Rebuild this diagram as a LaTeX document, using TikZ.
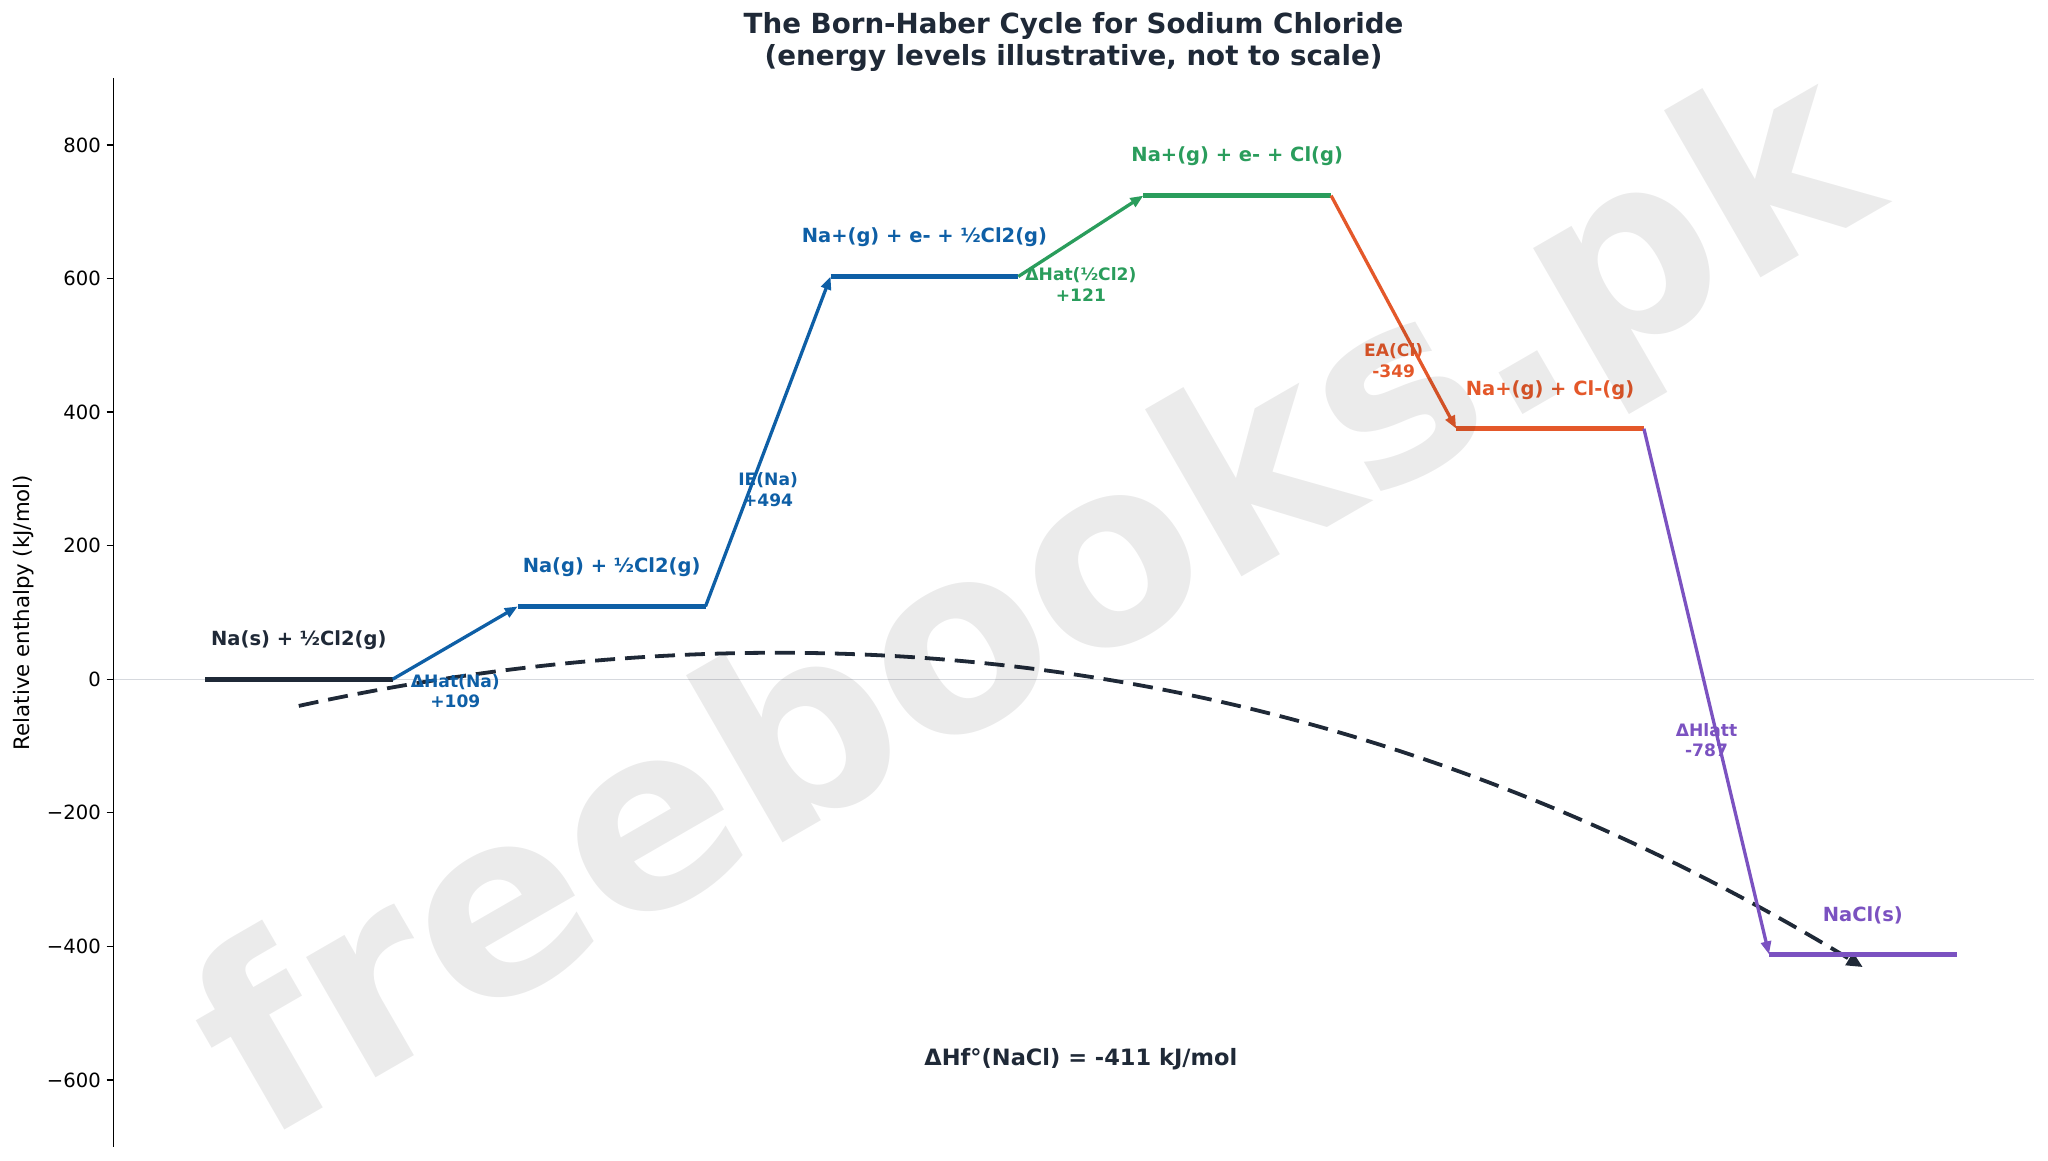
\documentclass[tikz,border=0pt]{standalone}
\usepackage{fontspec}
\setmainfont{DejaVu Sans}
\usetikzlibrary{arrows.meta}
\definecolor{cdark}{HTML}{1F2937}
\definecolor{cblue}{HTML}{0E5FA6}
\definecolor{cgreen}{HTML}{2A9D5C}
\definecolor{corange}{HTML}{E4582A}
\definecolor{cpurple}{HTML}{7B52C1}
\definecolor{cgrid}{HTML}{D6D9DE}
\tikzset{
  lvl/.style={line width=5pt},
  stepar/.style={line width=3.3pt,-{Triangle[length=13pt,width=10pt]}},
  lvllab/.style={font=\fontsize{19.5}{23}\selectfont\bfseries,inner sep=0pt,anchor=center},
  arrlab/.style={font=\fontsize{17.1}{20.5}\selectfont\bfseries,align=center,inner sep=0pt,anchor=center},
  ytk/.style={font=\fontsize{19.6}{23}\selectfont,anchor=east,inner sep=0pt,text=black},
}
\begin{document}
\begin{tikzpicture}[x=1pt,y=-1pt]
\useasboundingbox (0,0) rectangle (2048,1161);
\fill[white] (0,0) rectangle (2048,1161);
% zero line
\coordinate (g0) at (113.6,679.2);
\coordinate (g1) at (2033.6,679.2);
\draw[cgrid,line width=1.4pt] (g0) -- (g1);
% axis
\coordinate (ax0) at (113.6,78);
\coordinate (ax1) at (113.6,1147);
\draw[black,line width=1.4pt] (ax0) -- (ax1);
\foreach \v/\t in {800/800,600/600,400/400,200/200,0/0,-200/{−200},-400/{−400},-600/{−600}}{
  \pgfmathsetmacro{\yy}{679.2-0.6679*\v}
  \draw[black,line width=1.4pt] (106.5,\yy) -- (113.6,\yy);
  \node[ytk] (yt\v) at (101,\yy) {\t};
}
\node[font=\fontsize{21.3}{25}\selectfont,rotate=90,anchor=center,inner sep=0pt] (ylab) at (23.5,612.5) {Relative enthalpy (kJ/mol)};
% title
\node[font=\fontsize{27.7}{32}\selectfont\bfseries,align=center,text=cdark,inner sep=0pt] (title) at (1073.6,41.8) {The Born-Haber Cycle for Sodium Chloride\\(energy levels illustrative, not to scale)};
% level coordinates
\coordinate (L0a) at (205,679.2);    \coordinate (L0b) at (392.7,679.2);
\coordinate (L1a) at (517.8,606.4);  \coordinate (L1b) at (705.5,606.4);
\coordinate (L2a) at (830.6,276.5);  \coordinate (L2b) at (1018.3,276.5);
\coordinate (L3a) at (1143.4,195.6); \coordinate (L3b) at (1331.1,195.6);
\coordinate (L4a) at (1456.2,428.7); \coordinate (L4b) at (1643.9,428.7);
\coordinate (L5a) at (1769,954.4);   \coordinate (L5b) at (1956.7,954.4);
% dashed overall arrow
\coordinate (P0) at (298.8,705.9);
\coordinate (P2) at (1862.8,967.1);
\draw[cdark,line width=3.8pt,dash pattern=on 20pt off 10pt,-{Triangle[length=16pt,width=14pt]}] (P0) .. controls (854.9,584.6) and (1376.3,671.7) .. (P2);
% levels
\draw[lvl,cdark] (L0a) -- (L0b);
\draw[lvl,cblue] (L1a) -- (L1b);
\draw[lvl,cblue] (L2a) -- (L2b);
\draw[lvl,cgreen] (L3a) -- (L3b);
\draw[lvl,corange] (L4a) -- (L4b);
\draw[lvl,cpurple] (L5a) -- (L5b);
% steps
\draw[stepar,cblue] (L0b) -- (L1a);
\draw[stepar,cblue] (L1b) -- (L2a);
\draw[stepar,cgreen] (L2b) -- (L3a);
\draw[stepar,corange] (L3b) -- (L4a);
\draw[stepar,cpurple] (L4b) -- (L5a);
% level labels
\node[lvllab,text=cdark] (t0) at (298.8,640.2) {Na(s) + ½Cl2(g)};
\node[lvllab,text=cblue] (t1) at (611.6,567.4) {Na(g) + ½Cl2(g)};
\node[lvllab,text=cblue] (t2) at (924.4,237.5) {Na+(g) + e- + ½Cl2(g)};
\node[lvllab,text=cgreen] (t3) at (1237.2,156.6) {Na+(g) + e- + Cl(g)};
\node[lvllab,text=corange] (t4) at (1550,389.7) {Na+(g) + Cl-(g)};
\node[lvllab,text=cpurple] (t5) at (1862.8,915.4) {NaCl(s)};
% step labels
\node[arrlab,text=cblue] (s0) at (455.3,691.1) {ΔHat(Na)\\+109};
\node[arrlab,text=cblue] (s1) at (768.1,489.8) {IE(Na)\\+494};
\node[arrlab,text=cgreen] (s2) at (1080.9,284.4) {ΔHat(½Cl2)\\+121};
\node[arrlab,text=corange] (s3) at (1393.7,360.5) {EA(Cl)\\-349};
\node[arrlab,text=cpurple] (s4) at (1706.5,739.9) {ΔHlatt\\-787};
% bottom text
\node[font=\fontsize{22.5}{26}\selectfont\bfseries,text=cdark,inner sep=0pt] (hf) at (1080.8,1059.3) {ΔHf°(NaCl) = -411 kJ/mol};
% watermark
\node[font=\fontsize{254}{260}\selectfont\bfseries,text=black,text opacity=0.08,rotate=30,inner sep=0pt] (wm) at (1040,613) {freebooks.pk};
\end{tikzpicture}
\end{document}
